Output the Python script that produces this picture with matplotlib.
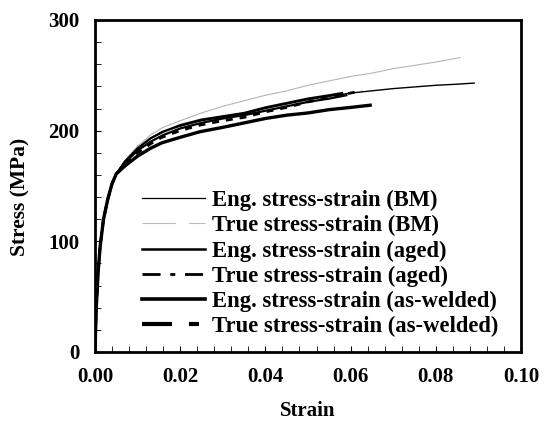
import matplotlib
matplotlib.use('Agg')
import matplotlib.pyplot as plt
from matplotlib.lines import Line2D
from matplotlib.ticker import MultipleLocator, FormatStrFormatter

plt.rcParams['font.family'] = ['Liberation Serif', 'DejaVu Serif']
plt.rcParams['font.weight'] = 'bold'
plt.rcParams['axes.labelweight'] = 'bold'
plt.rcParams['lines.scale_dashes'] = False

# shared elastic / early plastic part
elastic_strain = [0.0, 0.0003, 0.0007, 0.0012, 0.002, 0.003, 0.004, 0.005]
elastic_stress = [0, 40, 70, 95, 120, 138, 152, 161]

bm_eng_strain = [0.007, 0.010, 0.013, 0.0157, 0.020, 0.025, 0.030, 0.035, 0.040, 0.045,
                 0.050, 0.055, 0.060, 0.065, 0.070, 0.075, 0.080, 0.085, 0.089]
bm_eng_stress = [172, 184, 193, 199, 204, 209, 212, 215, 220, 224,
                 228, 231, 234, 236, 238, 239.5, 241, 242, 243]

bm_true_strain = [0.007, 0.010, 0.013, 0.016, 0.020, 0.025, 0.030, 0.035, 0.040, 0.045,
                  0.050, 0.055, 0.060, 0.065, 0.070, 0.075, 0.080, 0.0857]
bm_true_stress = [173, 186, 196, 203, 209, 216, 222, 227, 232, 236,
                  241, 245, 249, 252, 256, 259, 262, 266]

aged_eng_strain = [0.007, 0.010, 0.013, 0.016, 0.020, 0.025, 0.030, 0.035, 0.040, 0.045,
                   0.050, 0.055, 0.059]
aged_eng_stress = [171, 182, 190, 196, 202, 207, 211, 214, 218, 222,
                   226, 229, 232]

aged_true_strain = [0.007, 0.010, 0.013, 0.016, 0.020, 0.025, 0.030, 0.035, 0.040, 0.045,
                    0.050, 0.055, 0.058]
aged_true_stress = [172, 184, 193, 199, 205, 210, 213, 216, 221, 225,
                    229, 232, 234]

aw_eng_strain = [0.007, 0.010, 0.013, 0.0157, 0.020, 0.0246, 0.030, 0.035, 0.040, 0.045,
                 0.050, 0.055, 0.060, 0.0646]
aw_eng_stress = [168, 177, 184, 189, 194, 199, 203, 207, 211, 214,
                 216, 219, 221, 223]

aw_true_strain = [0.007, 0.010, 0.013, 0.0157, 0.020, 0.0246, 0.030, 0.035, 0.040, 0.045,
                  0.050, 0.055, 0.060, 0.0626]
aw_true_stress = [169, 180, 188, 194, 200, 205, 209, 212, 217, 221,
                  226, 230, 234, 236]

labels = ['Eng. stress-strain (BM)', 'True stress-strain (BM)',
          'Eng. stress-strain (aged)', 'True stress-strain (aged)',
          'Eng. stress-strain (as-welded)', 'True stress-strain (as-welded)']

fig = plt.figure(figsize=(5.44, 4.21), dpi=100)
ax = fig.add_axes([0.1746, 0.1639, 0.7831, 0.7886])

def full(strain, stress):
    return elastic_strain + strain, elastic_stress + stress

x, y = full(bm_true_strain, bm_true_stress)
ax.plot(x, y, color='#b5b5b5', lw=0.8)
x, y = full(bm_eng_strain, bm_eng_stress)
ax.plot(x, y, color='black', lw=1.0)
x, y = full(aged_eng_strain, aged_eng_stress)
ax.plot(x, y, color='black', lw=1.6)
x, y = full(aged_true_strain, aged_true_stress)
ax.plot(x, y, color='black', lw=1.6)
x, y = full(aw_true_strain, aw_true_stress)
ax.plot(x, y, color='black', lw=2.0, dashes=(5, 5))
x, y = full(aw_eng_strain, aw_eng_stress)
ax.plot(x, y, color='black', lw=2.4)

handles = [
    Line2D([], [], color='black', lw=0.9),
    Line2D([], [], color='#bdbdbd', lw=0.8, dashes=(24, 9.4)),
    Line2D([], [], color='black', lw=1.8),
    Line2D([], [], color='black', lw=2.0, dashes=(13, 7, 3.6, 7), dash_capstyle='butt'),
    Line2D([], [], color='black', lw=2.6),
    Line2D([], [], color='black', lw=3.0, dashes=(21.6, 12.2, 7.2, 50), dash_capstyle='butt'),
]
ax.legend(handles, labels, loc='upper left', bbox_to_anchor=(0.11, 0.488),
          frameon=False, fontsize=16.3, handlelength=2.79, handletextpad=0.31,
          labelspacing=0.18, borderaxespad=0, borderpad=0)

ax.set_xlim(0, 0.10)
ax.set_ylim(0, 300)
ax.xaxis.set_major_locator(MultipleLocator(0.02))
ax.xaxis.set_minor_locator(MultipleLocator(0.004))
ax.xaxis.set_major_formatter(FormatStrFormatter('%.2f'))
ax.yaxis.set_major_locator(MultipleLocator(100))
ax.yaxis.set_minor_locator(MultipleLocator(20))
ax.tick_params(which='both', direction='in', top=False, right=False, labelsize=15)
ax.tick_params(which='major', length=4, width=0.8, pad=11)
ax.tick_params(which='minor', length=4, width=0.6)
for s in ax.spines.values():
    s.set_linewidth(2.0)

ax.set_xlabel('Strain', fontsize=15, labelpad=10)
ax.set_ylabel('Stress (MPa)', fontsize=15.5)
ax.yaxis.set_label_coords(-0.152, 0.467)

fig.savefig('out.png', dpi=100)
